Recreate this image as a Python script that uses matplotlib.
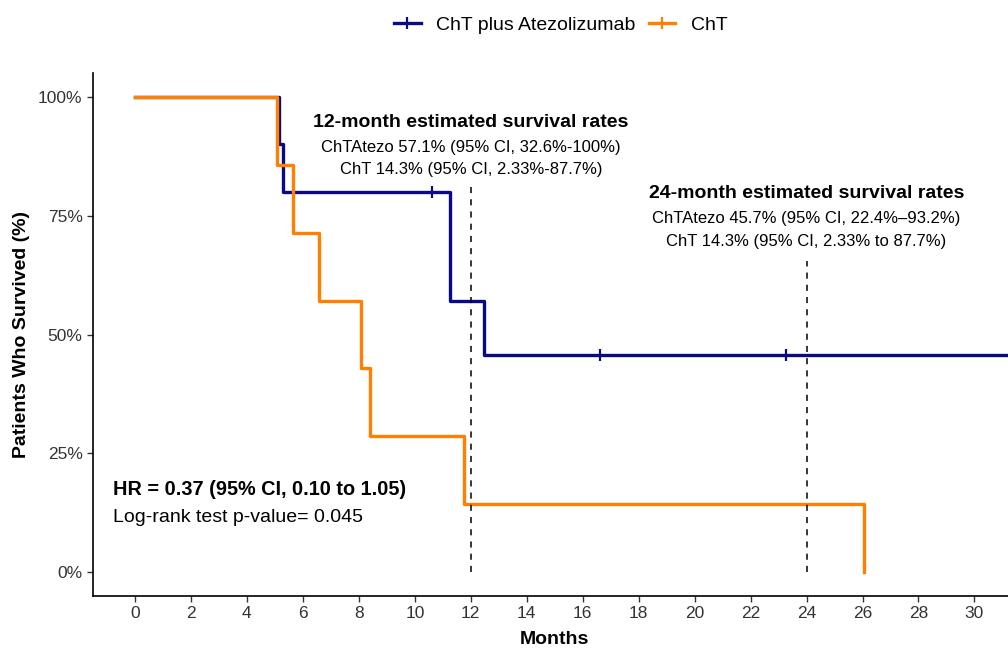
import matplotlib
matplotlib.use('Agg')
import matplotlib.pyplot as plt
from matplotlib.lines import Line2D
from matplotlib.ticker import PercentFormatter

plt.rcParams['font.family'] = ['Liberation Sans', 'DejaVu Sans']

# Kaplan-Meier steps
atezo_t = [0, 5.15, 5.3, 11.25, 12.48, 32.5]
atezo_s = [1.0, 0.9, 0.8, 0.571, 0.457, 0.457]
atezo_cens_t = [10.6, 16.63, 23.27]
atezo_cens_s = [0.8, 0.457, 0.457]

cht_t = [0, 5.07, 5.63, 6.58, 8.06, 8.39, 11.76, 26.07]
cht_s = [1.0, 0.857, 0.714, 0.571, 0.429, 0.286, 0.143, 0.0]

labels = ['ChT plus Atezolizumab', 'ChT']
colors = ['#0A0A85', '#FF8000']
x_ticks = list(range(0, 31, 2))
y_ticks = [0, 0.25, 0.5, 0.75, 1.0]
ref_months = [12, 24]
ref_tops = [0.822, 0.654]

fig = plt.figure(figsize=(10.08, 6.48), dpi=100)
ax = fig.add_axes([0.0923, 0.0802, 0.9077, 0.8071])

ax.step(atezo_t, atezo_s, where='post', color=colors[0], lw=2.4, zorder=3)
ax.plot(atezo_cens_t, atezo_cens_s, ls='none', marker='|', ms=9, mew=1.6, color=colors[0], zorder=4)
ax.step(cht_t, cht_s, where='post', color=colors[1], lw=2.4, zorder=3)

for m, top in zip(ref_months, ref_tops):
    ax.plot([m, m], [0, top], color='black', ls=(0, (4, 4)), lw=1.1, zorder=5)

ax.set_xlim(-1.5, 31.2)
ax.set_ylim(-0.05, 1.05)
ax.set_xticks(x_ticks)
ax.set_yticks(y_ticks)
ax.yaxis.set_major_formatter(PercentFormatter(1.0, decimals=0))
ax.tick_params(labelsize=12.5, labelcolor='#333333', length=4, width=1, color='#333333')
for s in ['top', 'right']:
    ax.spines[s].set_visible(False)
for s in ['left', 'bottom']:
    ax.spines[s].set_linewidth(1.2)

ax.set_xlabel('Months', fontsize=14, fontweight='bold')
ax.xaxis.set_label_coords((15 + 1.5) / 32.7, -0.066)
ax.set_ylabel('Patients Who Survived (%)', fontsize=14, fontweight='bold')
ax.yaxis.set_label_coords(-0.069, 0.5)

ax.text(12, 0.947, '12-month estimated survival rates', ha='center', va='center', fontsize=14, fontweight='bold')
ax.text(12, 0.894, 'ChTAtezo 57.1% (95% CI, 32.6%-100%)', ha='center', va='center', fontsize=12)
ax.text(12, 0.847, 'ChT 14.3% (95% CI, 2.33%-87.7%)', ha='center', va='center', fontsize=12)

ax.text(24, 0.796, '24-month estimated survival rates', ha='center', va='center', fontsize=14, fontweight='bold')
ax.text(24, 0.745, 'ChTAtezo 45.7% (95% CI, 22.4%\u201393.2%)', ha='center', va='center', fontsize=12)
ax.text(24, 0.696, 'ChT 14.3% (95% CI, 2.33% to 87.7%)', ha='center', va='center', fontsize=12)

ax.text(-0.78, 0.174, 'HR = 0.37 (95% CI, 0.10 to 1.05)', ha='left', va='center', fontsize=14.3, fontweight='bold')
ax.text(-0.78, 0.115, 'Log-rank test p-value= 0.045', ha='left', va='center', fontsize=14)

handles = [Line2D([], [], color=c, lw=2.4, marker='|', ms=9, mew=1.6) for c in colors]
fig.legend(handles, labels, loc='center', bbox_to_anchor=(0.5565, 0.961), ncol=2, frameon=False,
           fontsize=14, handlelength=1.35, columnspacing=0.7, handletextpad=0.8)

fig.savefig('out.png', dpi=100)
